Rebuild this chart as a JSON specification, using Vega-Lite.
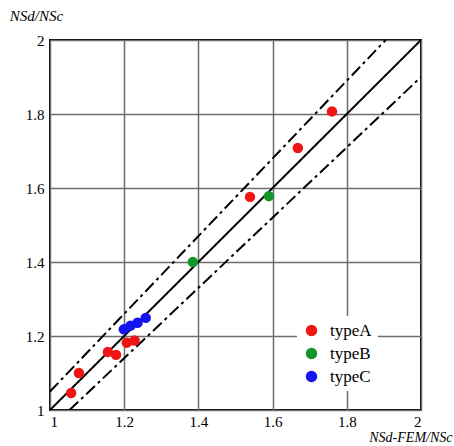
{
  "$schema": "https://vega.github.io/schema/vega-lite/v6.json",
  "autosize": "none",
  "width": 371,
  "height": 370,
  "padding": {"left": 50, "top": 40, "right": 33, "bottom": 36},
  "background": "white",
  "config": {
    "view": {"stroke": "black", "strokeWidth": 2},
    "font": "serif",
    "axis": {
      "labelColor": "black",
      "gridColor": "#6e6e6e",
      "gridWidth": 1.5,
      "gridOpacity": 1,
      "domain": false,
      "ticks": false,
      "titleFontWeight": "normal",
      "titleColor": "black"
    }
  },
  "datasets": {
    "lines": [
      {"x": 1, "y": 1, "line": "eq"},
      {"x": 2, "y": 2, "line": "eq"},
      {"x": 1, "y": 1.05, "line": "upper"},
      {"x": 1.9048, "y": 2, "line": "upper"},
      {"x": 1.0526, "y": 1, "line": "lower"},
      {"x": 2, "y": 1.9, "line": "lower"}
    ],
    "points": [
      {"x": 1.057, "y": 1.046, "type": "typeA"},
      {"x": 1.078, "y": 1.1, "type": "typeA"},
      {"x": 1.156, "y": 1.157, "type": "typeA"},
      {"x": 1.178, "y": 1.149, "type": "typeA"},
      {"x": 1.207, "y": 1.182, "type": "typeA"},
      {"x": 1.228, "y": 1.188, "type": "typeA"},
      {"x": 1.539, "y": 1.576, "type": "typeA"},
      {"x": 1.668, "y": 1.708, "type": "typeA"},
      {"x": 1.76, "y": 1.807, "type": "typeA"},
      {"x": 1.385, "y": 1.4, "type": "typeB"},
      {"x": 1.59, "y": 1.578, "type": "typeB"},
      {"x": 1.199, "y": 1.218, "type": "typeC"},
      {"x": 1.217, "y": 1.228, "type": "typeC"},
      {"x": 1.236, "y": 1.236, "type": "typeC"},
      {"x": 1.258, "y": 1.249, "type": "typeC"}
    ]
  },
  "layer": [
    {
      "data": {"name": "lines"},
      "mark": {"type": "line", "color": "black", "strokeWidth": 2, "clip": true},
      "encoding": {
        "x": {
          "field": "x", "type": "quantitative",
          "scale": {"domain": [1, 2], "nice": false, "zero": false},
          "axis": {
            "values": [1, 1.2, 1.4, 1.6, 1.8, 2],
            "format": "~g",
            "labelFont": "serif",
            "labelFontSize": 15,
            "labelPadding": 4,
            "title": "NSd-FEM/NSc",
            "titleFont": "serif",
            "titleFontStyle": "italic",
            "titleFontSize": 14,
            "titleX": 402,
            "titleY": 27,
            "titleAlign": "right",
            "titleBaseline": "middle"
          }
        },
        "y": {
          "field": "y", "type": "quantitative",
          "scale": {"domain": [1, 2], "nice": false, "zero": false},
          "axis": {
            "values": [1, 1.2, 1.4, 1.6, 1.8, 2],
            "format": "~g",
            "labelFont": "serif",
            "labelFontSize": 15,
            "labelPadding": 6,
            "title": "NSd/NSc",
            "titleFont": "serif",
            "titleFontStyle": "italic",
            "titleFontSize": 15,
            "titleAngle": 0,
            "titleX": -14,
            "titleY": -25,
            "titleAlign": "center",
            "titleBaseline": "middle"
          }
        },
        "detail": {"field": "line", "type": "nominal"},
        "strokeDash": {
          "field": "line", "type": "nominal",
          "scale": {"domain": ["eq", "upper", "lower"], "range": [[1, 0], [12, 4, 3, 4], [12, 4, 3, 4]]},
          "legend": null
        }
      }
    },
    {
      "data": {"name": "points"},
      "mark": {"type": "point", "filled": true, "shape": "circle", "size": 110, "opacity": 1},
      "encoding": {
        "x": {"field": "x", "type": "quantitative"},
        "y": {"field": "y", "type": "quantitative"},
        "color": {
          "field": "type", "type": "nominal",
          "scale": {"domain": ["typeA", "typeB", "typeC"], "range": ["#f01414", "#12962a", "#1414f0"]},
          "legend": {
            "title": null,
            "orient": "none",
            "legendX": 247,
            "legendY": 276,
            "fillColor": "white",
            "padding": 6,
            "symbolType": "circle",
            "symbolSize": 130,
            "symbolStrokeWidth": 0,
            "symbolOpacity": 1,
            "labelFont": "serif",
            "labelFontSize": 17,
            "labelColor": "black",
            "labelOffset": 10,
            "rowPadding": 5
          }
        }
      }
    }
  ]
}
